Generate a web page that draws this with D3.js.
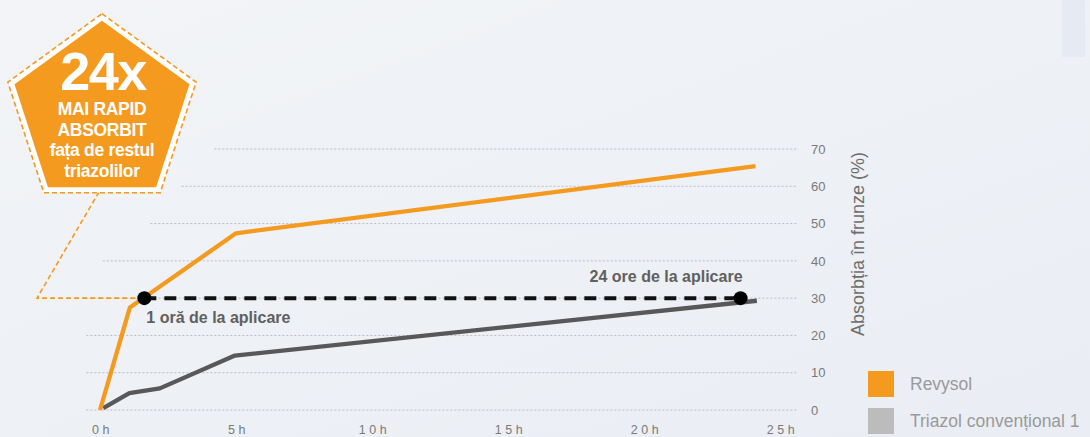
<!DOCTYPE html>
<html>
<head>
<meta charset="utf-8">
<script src="https://cdn.jsdelivr.net/npm/d3@7"></script>
<style>
  html, body { margin: 0; padding: 0; }
  body { width: 1090px; height: 437px; overflow: hidden;
         background: linear-gradient(160deg, #f2f4f7 0%, #edf0f5 60%, #eaeef4 100%); }
  svg { display: block; font-family: "Liberation Sans", Arial, sans-serif; }
</style>
</head>
<body>
<svg width="1090" height="437"></svg>
<script>
// absorption in leaves (%) against hours after application
var revysolHours  = [0, 1.1, 5.0, 24.1],
    revysolValues = [0, 27.5, 47.4, 65.4],
    triazolHours  = [0.12, 1.08, 2.2, 4.96, 24.15],
    triazolValues = [0.5, 4.5, 5.8, 14.6, 29.3];

var markerHours  = [1.63, 23.55],
    markerValues = [30, 30],
    markerLabels = ["1 oră de la aplicare", "24 ore de la aplicare"];

var xTicks = [0, 5, 10, 15, 20, 25],
    yTicks = [0, 10, 20, 30, 40, 50, 60, 70],
    gridFrom = [-0.5, -0.5, -0.5, -0.5, 0.1, 1.85, 3.0, 4.2];

var legendNames = ["Revysol", "Triazol convențional 1"],
    badgeLines = ["MAI RAPID", "ABSORBIT", "fața de restul", "triazolilor"];

var orange = "#f39a1f", grey = "#58585a";

(function() {
  var svg = d3.select("svg");

  var x = d3.scaleLinear().domain([0, 25]).range([100, 780]),
      y = d3.scaleLinear().domain([0, 70]).range([410, 149]);

  // dotted grid
  svg.append("g").selectAll("line").data(yTicks)
    .enter().append("line")
    .attr("x1", function(d, i) { return x(gridFrom[i]); })
    .attr("x2", x(25.6))
    .attr("y1", function(d) { return y(d); })
    .attr("y2", function(d) { return y(d); })
    .attr("stroke", "#b9bcc2")
    .attr("stroke-width", 1)
    .attr("stroke-dasharray", "2,2");

  // axes
  var gx = svg.append("g")
    .attr("transform", "translate(2,422)")
    .call(d3.axisBottom(x).tickValues(xTicks).tickSize(0)
      .tickFormat(function(d) { return d + "h"; }));
  gx.select(".domain").remove();
  gx.selectAll("text")
    .attr("dy", "0.71em")
    .attr("fill", "#7a7a7a")
    .style("font-size", "12.5px")
    .style("letter-spacing", "3.5px")
    .style("font-family", "'Liberation Sans', Arial, sans-serif");

  var gy = svg.append("g")
    .attr("transform", "translate(811,0)")
    .call(d3.axisRight(y).tickValues(yTicks).tickSize(0).tickPadding(0));
  gy.select(".domain").remove();
  gy.selectAll("text")
    .attr("fill", "#7a7a7a")
    .style("font-size", "13px")
    .style("font-family", "'Liberation Sans', Arial, sans-serif");

  svg.append("text")
    .attr("transform", "translate(864,244) rotate(-90)")
    .attr("text-anchor", "middle")
    .attr("fill", "#6e6e6e")
    .style("font-size", "18px")
    .text("Absorbția în frunze (%)");

  // callout from the badge to the 1h marker
  var cx0 = 37, cy0 = y(30);
  svg.append("path")
    .attr("d", "M99,192 L" + cx0 + "," + cy0 + " L" + x(markerHours[0]) + "," + cy0)
    .attr("fill", "none")
    .attr("stroke", orange)
    .attr("stroke-width", 1.6)
    .attr("stroke-dasharray", "5,3");

  // series
  var line = d3.line()
    .x(function(d) { return x(d[0]); })
    .y(function(d) { return y(d[1]); });

  svg.append("path")
    .datum(d3.zip(triazolHours, triazolValues))
    .attr("d", line)
    .attr("fill", "none")
    .attr("stroke", grey)
    .attr("stroke-width", 4.3)
    .attr("stroke-linejoin", "round");

  svg.append("path")
    .datum(d3.zip(revysolHours, revysolValues))
    .attr("d", line)
    .attr("fill", "none")
    .attr("stroke", orange)
    .attr("stroke-width", 4.3)
    .attr("stroke-linejoin", "round");

  // 1h vs 24h marker
  var markers = d3.zip(markerHours, markerValues);
  svg.append("path")
    .datum(markers)
    .attr("d", line)
    .attr("stroke", "#111")
    .attr("stroke-width", 4)
    .attr("stroke-dasharray", "12,8");

  svg.append("g").selectAll("circle").data(markers)
    .enter().append("circle")
    .attr("cx", function(d) { return x(d[0]); })
    .attr("cy", function(d) { return y(d[1]); })
    .attr("r", 7)
    .attr("fill", "#000");

  svg.append("g").selectAll("text").data(markers)
    .enter().append("text")
    .attr("x", function(d) { return x(d[0]) + 2; })
    .attr("y", function(d, i) { return i === 0 ? y(d[1]) + 25 : y(d[1]) - 16; })
    .attr("text-anchor", function(d, i) { return i === 0 ? "start" : "end"; })
    .attr("fill", "#606060")
    .style("font-size", "16px")
    .style("font-weight", "bold")
    .text(function(d, i) { return markerLabels[i]; });

  // pentagon badge
  function pentagon(cx, cy, r) {
    return d3.range(5).map(function(i) {
      var a = -Math.PI / 2 + i * 2 * Math.PI / 5;
      return [cx + r * Math.cos(a), cy + r * Math.sin(a)];
    });
  }
  var badge = svg.append("g");
  badge.append("polygon")
    .attr("points", pentagon(102, 112.7, 99).join(" "))
    .attr("fill", "#ffffff")
    .attr("stroke", orange)
    .attr("stroke-width", 1.6)
    .attr("stroke-dasharray", "5,3");
  badge.append("polygon")
    .attr("points", pentagon(102, 112.7, 92).join(" "))
    .attr("fill", orange);
  badge.append("text")
    .attr("x", 103).attr("y", 90)
    .attr("text-anchor", "middle")
    .attr("fill", "#fff")
    .style("font-size", "54px")
    .style("font-weight", "bold")
    .style("letter-spacing", "-1.5px")
    .text("24x");
  badge.selectAll("text.l").data(badgeLines)
    .enter().append("text")
    .attr("class", "l")
    .attr("x", 102)
    .attr("y", function(d, i) { return 115 + i * 20.5; })
    .attr("text-anchor", "middle")
    .attr("fill", "#fff")
    .style("font-size", "17.5px")
    .style("font-weight", "bold")
    .style("letter-spacing", "-0.3px")
    .text(function(d) { return d; });

  // legend
  var legend = svg.append("g").selectAll("g").data(legendNames)
    .enter().append("g")
    .attr("transform", function(d, i) { return "translate(868," + (371 + i * 37) + ")"; });
  legend.append("rect")
    .attr("width", 26).attr("height", 26)
    .attr("fill", function(d, i) { return i === 0 ? orange : "#bcbcbc"; });
  legend.append("text")
    .attr("x", 42).attr("y", 19)
    .attr("fill", "#9a9a9a")
    .style("font-size", "17.5px")
    .text(function(d) { return d; });

  // faint panel at the top right
  svg.append("rect")
    .attr("x", 1062).attr("y", 0).attr("width", 23).attr("height", 57)
    .attr("fill", "#e6ebf3");
})();
</script>
</body>
</html>
